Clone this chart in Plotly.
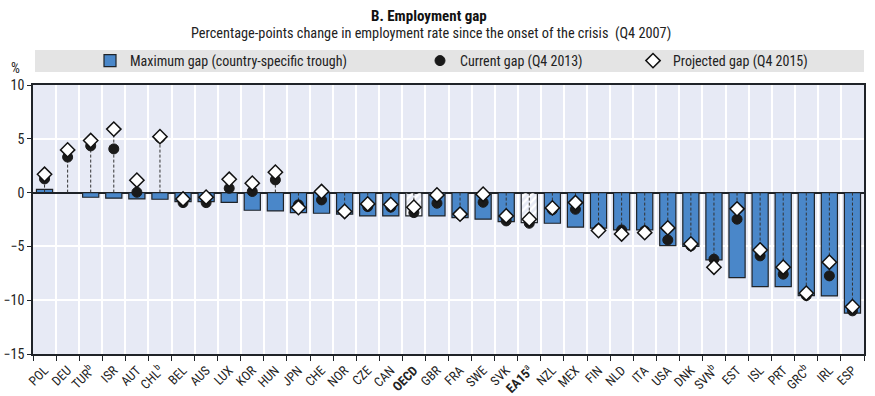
import plotly.graph_objects as go

categories = ["POL", "DEU", "TUR<sup>b</sup>", "ISR", "AUT", "CHL<sup>b</sup>", "BEL", "AUS", "LUX", "KOR",
              "HUN", "JPN", "CHE", "NOR", "CZE", "CAN", "<b>OECD</b>", "GBR", "FRA", "SWE",
              "SVK", "<b>EA15</b><sup>a</sup>", "NZL", "MEX", "FIN", "NLD", "ITA", "USA", "DNK", "SVN<sup>b</sup>",
              "EST", "ISL", "PRT", "GRC<sup>b</sup>", "IRL", "ESP"]

max_gap = [0.3, 0.0, -0.43, -0.52, -0.59, -0.62, -0.83, -0.83, -0.9, -1.64,
           -1.7, -1.86, -1.92, -2.0, -2.17, -2.17, -2.17, -2.17, -2.32, -2.47,
           -2.7, -2.79, -2.85, -3.2, -3.31, -3.47, -3.47, -4.92, -5.0, -6.25,
           -7.9, -8.73, -8.73, -9.57, -9.6, -11.2]

current_gap = [1.27, 3.3, 4.34, 4.06, 0.03, 5.1, -0.93, -0.93, 0.4, 0.1,
               1.18, -1.14, -0.68, -1.8, -1.3, -1.35, -1.86, -0.99, -2.07, -0.9,
               -2.63, -2.85, -1.6, -1.55, -3.4, -3.47, -3.56, -4.4, -4.95, -6.19,
               -2.47, -5.88, -7.58, -9.57, -7.74, -10.99]

projected_gap = [1.7, 3.97, 4.84, 5.9, 1.15, 5.2, -0.59, -0.43, 1.24, 0.87,
                 1.9, -1.39, 0.1, -1.75, -1.05, -1.1, -1.36, -0.22, -2.0, -0.15,
                 -2.17, -2.47, -1.42, -0.93, -3.53, -3.84, -3.72, -3.28, -4.77, -6.93,
                 -1.51, -5.33, -6.93, -9.35, -6.47, -10.6]

y_ticks = [-15, -10, -5, 0, 5, 10]

hatched = ["<b>OECD</b>", "<b>EA15</b><sup>a</sup>"]

FONT = "Liberation Sans Narrow, Arial Narrow, Roboto Condensed, Liberation Sans, sans-serif"
BAR_BLUE = "#4a87c9"
DARK = "#1f2328"

idx = list(range(len(categories)))
bar_colors = ["white" if c in hatched else BAR_BLUE for c in categories]
pattern_shapes = ["/" if c in hatched else "" for c in categories]

fig = go.Figure()

fig.add_trace(go.Bar(
    x=idx, y=max_gap, width=0.7,
    name="Maximum gap (country-specific trough)",
    marker=dict(color=bar_colors, line=dict(color=DARK, width=1.2),
                pattern=dict(shape=pattern_shapes, fgcolor=DARK, bgcolor="white",
                             size=5, solidity=0.45, fillmode="replace")),
    legend="legend",
))

# dashed connector lines from 0 to the farther marker
lx, ly = [], []
for i, a, b in zip(idx, current_gap, projected_gap):
    far = a if abs(a) >= abs(b) else b
    lx += [i, i, None]
    ly += [0, far, None]
fig.add_trace(go.Scatter(x=lx, y=ly, mode="lines", showlegend=False,
                         line=dict(color="#333333", width=1, dash="3px,2px"),
                         hoverinfo="skip"))

fig.add_trace(go.Scatter(
    x=idx, y=current_gap, mode="markers", name="Current gap (Q4 2013)",
    marker=dict(symbol="circle", size=10, color="#1a1a1a", line=dict(color="#1a1a1a", width=1)),
    legend="legend2",
))

fig.add_trace(go.Scatter(
    x=idx, y=projected_gap, mode="markers", name="Projected gap (Q4 2015)",
    marker=dict(symbol="diamond", size=11, color="white", line=dict(color="#111111", width=1.5)),
    legend="legend3",
))

W, H = 875, 396
L, R, T, B = 33, 11, 85, 42
pw, ph = W - L - R, H - T - B

def px_x(x):
    return (x - L) / pw

def px_y(y):
    return 1 + (T - y) / ph

def cx(x):
    return x / W

def cy(y):
    return 1 - y / H

legend_common = dict(orientation="h", yanchor="middle", xanchor="left",
                     xref="container", yref="container",
                     bgcolor="rgba(0,0,0,0)", font=dict(family=FONT, size=14, color="#222"),
                     itemwidth=30, tracegroupgap=0)

annotations = [
    dict(text="<b>B. Employment gap</b>", xref="paper", yref="paper",
         x=px_x(429), y=px_y(15.5), xanchor="center", yanchor="middle", borderpad=0,
         showarrow=False, font=dict(family=FONT, size=15, color="#111")),
    dict(text="Percentage-points change in employment rate since the onset of the crisis  (Q4 2007)",
         xref="paper", yref="paper", x=px_x(431), y=px_y(33), xanchor="center", yanchor="middle",
         borderpad=0, showarrow=False, font=dict(family=FONT, size=14.3, color="#222")),
    dict(text="%", xref="paper", yref="paper", x=px_x(15), y=px_y(68),
         xanchor="center", yanchor="middle", showarrow=False,
         font=dict(family=FONT, size=14, color="#222")),
]

fig.update_layout(
    width=W, height=H,
    margin=dict(l=L, r=R, t=T, b=B, pad=0, autoexpand=False),
    paper_bgcolor="white",
    plot_bgcolor="#e7eaf5",
    font=dict(family=FONT, size=12, color="#222"),
    legend=dict(x=cx(90), y=cy(61), **legend_common),
    legend2=dict(x=cx(420), y=cy(61), **legend_common),
    legend3=dict(x=cx(633), y=cy(61), **legend_common),
    shapes=[dict(type="rect", xref="paper", yref="paper",
                 x0=px_x(35), x1=1.0, y0=px_y(72), y1=px_y(50),
                 fillcolor="#e4e4e4", line=dict(width=0), layer="below")],
    annotations=annotations,
)

boundaries = [i - 0.5 for i in range(len(categories) + 1)]

fig.update_xaxes(
    tickmode="array", tickvals=idx, ticktext=categories, ticks="",
    tickangle=-45, ticklabelstandoff=2,
    tickfont=dict(family=FONT, size=13, color="#222"),
    showgrid=False, automargin=False,
    minor=dict(tickmode="array", tickvals=boundaries, ticks="outside", ticklen=5,
               tickcolor=DARK, showgrid=True, gridcolor="white", gridwidth=1.5),
    showline=True, linecolor=DARK, linewidth=1.5, mirror=True,
    range=[-0.5, len(categories) - 0.5], zeroline=False,
)
fig.update_yaxes(
    range=[-15, 10], tickmode="array", tickvals=y_ticks, ticks="outside", ticklen=4, tickcolor=DARK,
    tickfont=dict(family=FONT, size=14, color="#222"), automargin=False,
    showgrid=True, gridcolor="white", gridwidth=1.5,
    zeroline=True, zerolinecolor=DARK, zerolinewidth=1.5,
    showline=True, linecolor=DARK, linewidth=1.5, mirror=True,
)

fig.write_html("out.html", post_script="document.body.style.margin = '0';",
               config={"displayModeBar": False})
